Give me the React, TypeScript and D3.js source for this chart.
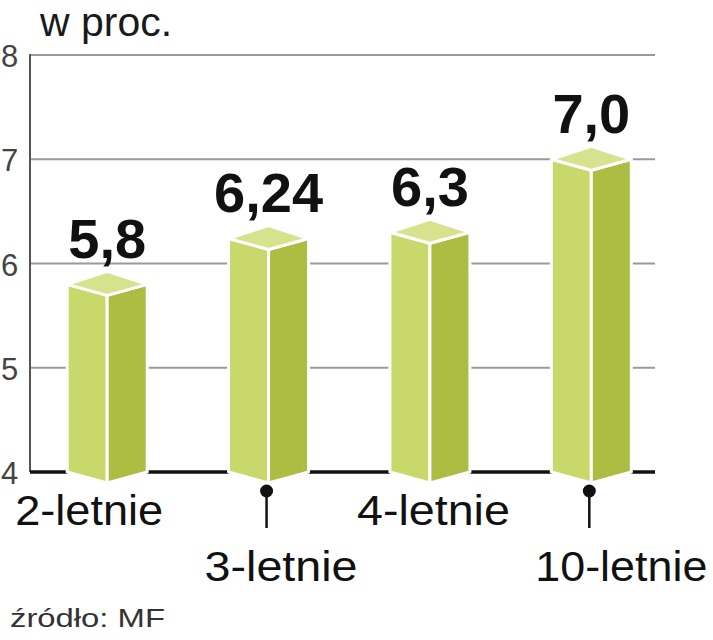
import React from "react";
import * as d3 from "d3";

const categories = ["2-letnie", "3-letnie", "4-letnie", "10-letnie"];
const values = [5.8, 6.24, 6.3, 7.0];
const valueLabels = ["5,8", "6,24", "6,3", "7,0"];
const yTicks = [4, 5, 6, 7, 8];
const unitLabel = "w proc.";
const sourceLabel = "źródło: MF";

// layout (styles/positions, not data)
const W = 713;
const H = 640;
const AXIS_X = 30;
const GRID_END = 655;
const HALF = 40;
const DEPTH = 11;
const labelRow = [0, 1, 0, 1];
const labelDx = [-92, -64, -73, -56];
const labelLen = [148, 153, 153, 172];

const FRONT = "#c8d86a";
const SIDE = "#adbd42";
const TOP = "#d6e28c";

export default function App() {
  const y = d3.scaleLinear().domain([4, 8]).range([472, 55]);
  const x = d3
    .scalePoint<string>()
    .domain(categories)
    .range([26.5, 672])
    .padding(0.5);
  const base = y(4);

  return (
    <svg
      width={W}
      height={H}
      style={{ position: "absolute", left: 0, top: 0, background: "#fff" }}
      fontFamily="'Liberation Sans', Arial, sans-serif"
    >
      <rect width={W} height={H} fill="#fff" />
      <text x={40} y={36} fontSize={41} fill="#1a1a1a">
        {unitLabel}
      </text>
      {yTicks.map((t) => (
        <g key={t}>
          {t !== 4 && (
            <line
              x1={AXIS_X}
              x2={GRID_END}
              y1={y(t)}
              y2={y(t)}
              stroke="#9a9a9a"
              strokeWidth={2}
            />
          )}
          <text x={1} y={y(t) + 12} fontSize={31} fill="#444">
            {t}
          </text>
        </g>
      ))}
      <line
        x1={AXIS_X}
        x2={AXIS_X}
        y1={y(8) - 1}
        y2={base}
        stroke="#555"
        strokeWidth={2}
      />
      <line
        x1={AXIS_X}
        x2={GRID_END}
        y1={base}
        y2={base}
        stroke="#111"
        strokeWidth={3.5}
      />
      {categories.map((c, i) => {
        const cx = x(c) as number;
        const yt = y(values[i]);
        const l = cx - HALF;
        const r = cx + HALF;
        const front = `M${l},${yt} L${cx},${yt + DEPTH} L${cx},${base + DEPTH} L${l},${base} Z`;
        const side = `M${cx},${yt + DEPTH} L${r},${yt} L${r},${base} L${cx},${base + DEPTH} Z`;
        const top = `M${l},${yt} L${cx},${yt - DEPTH - 2} L${r},${yt} L${cx},${yt + DEPTH} Z`;
        return (
          <g key={c}>
            <path d={front} fill={FRONT} stroke="#fff" strokeWidth={3} strokeLinejoin="round" />
            <path d={side} fill={SIDE} stroke="#fff" strokeWidth={3} strokeLinejoin="round" />
            <path d={top} fill={TOP} stroke="#fff" strokeWidth={3} strokeLinejoin="round" />
            <text
              x={cx}
              y={yt - 26}
              textAnchor="middle"
              fontSize={56}
              fontWeight="bold"
              fill="#111"
            >
              {valueLabels[i]}
            </text>
            {labelRow[i] === 1 && (
              <g>
                <line
                  x1={cx - 2}
                  x2={cx - 2}
                  y1={base + 19}
                  y2={base + 56}
                  stroke="#111"
                  strokeWidth={2.5}
                />
                <circle cx={cx - 2} cy={base + 19} r={6.5} fill="#111" />
              </g>
            )}
            <text
              x={cx + labelDx[i]}
              y={labelRow[i] === 0 ? 525 : 581}
              fontSize={42}
              fill="#111"
              textLength={labelLen[i]}
              lengthAdjust="spacingAndGlyphs"
            >
              {c}
            </text>
          </g>
        );
      })}
      <text
        x={10}
        y={627}
        fontSize={25}
        fill="#333"
        textLength={155}
        lengthAdjust="spacingAndGlyphs"
      >
        {sourceLabel}
      </text>
    </svg>
  );
}
